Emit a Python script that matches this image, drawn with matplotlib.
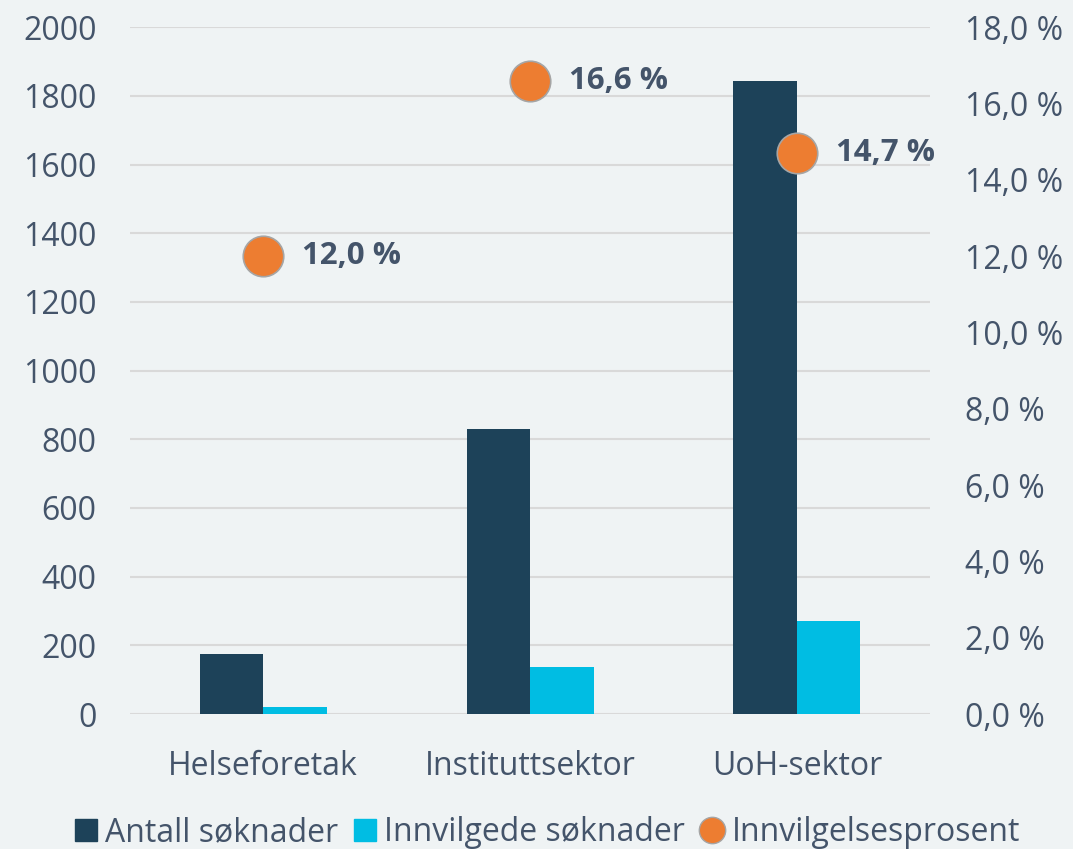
import matplotlib.pyplot as plt
from matplotlib.lines import Line2D
from matplotlib.patches import Patch
import numpy as np

kategorier = ['Helseforetak', 'Instituttsektor', 'UoH-sektor']
antall = [175, 830, 1843]
innvilgede = [21, 138, 271]
prosent = [12.0, 16.6, 14.7]

bg = '#EFF3F4'
txt = '#44546A'
c_dark = '#1D4259'
c_cyan = '#00BDE3'
c_orange = '#ED7D31'

plt.rcParams['font.family'] = ['Open Sans', 'DejaVu Sans']

fig = plt.figure(figsize=(10.73, 8.49), dpi=100, facecolor=bg)
ax = fig.add_axes([0.121, 0.159, 0.746, 0.809], facecolor=bg)
x = np.arange(len(kategorier))
w = 0.238

ax.bar(x - w / 2, antall, w, color=c_dark, zorder=3)
ax.bar(x + w / 2, innvilgede, w, color=c_cyan, zorder=3)
ax.set_xlim(-0.5, 2.5)
ax.set_ylim(0, 2000)
ax.set_yticks(range(0, 2001, 200))
ax.yaxis.grid(True, color='#D9D9D9', linewidth=1.5, zorder=0)
ax.set_xticks(x)
ax.set_xticklabels(kategorier)
ax.tick_params(axis='both', length=0, labelsize=23, labelcolor=txt)
ax.tick_params(axis='y', pad=24)
ax.tick_params(axis='x', pad=26)
for s in ax.spines.values():
    s.set_visible(False)

ax2 = ax.twinx()
ax2.set_ylim(0, 18)
ax2.set_yticks(range(0, 19, 2))
ax2.set_yticklabels([f'{v:.1f} %'.replace('.', ',') for v in range(0, 19, 2)])
ax2.tick_params(axis='y', length=0, labelsize=23, labelcolor=txt, pad=25)
for s in ax2.spines.values():
    s.set_visible(False)

ax2.scatter(x, prosent, s=850, color=c_orange, edgecolor='#A5A5A5', linewidth=1.2, zorder=5)
for xi, p in zip(x, prosent):
    ax2.annotate(f'{p:.1f} %'.replace('.', ','), (xi, p), xytext=(28, 0),
                 textcoords='offset points', va='center', ha='left',
                 fontsize=22.5, fontweight='bold', color=txt)

handles = [Patch(color=c_dark), Patch(color=c_cyan),
           Line2D([], [], marker='o', linestyle='', markersize=19,
                  markerfacecolor=c_orange, markeredgecolor='#A5A5A5')]
labels = ['Antall søknader', 'Innvilgede søknader', 'Innvilgelsesprosent']
fig.legend(handles, labels, loc='lower center', bbox_to_anchor=(0.51, -0.034), ncol=3,
           frameon=False, fontsize=23, labelcolor=txt, handlelength=0.7,
           handleheight=0.7, handletextpad=0.25, columnspacing=0.5)

fig.savefig('out.png', dpi=100, facecolor=bg)
